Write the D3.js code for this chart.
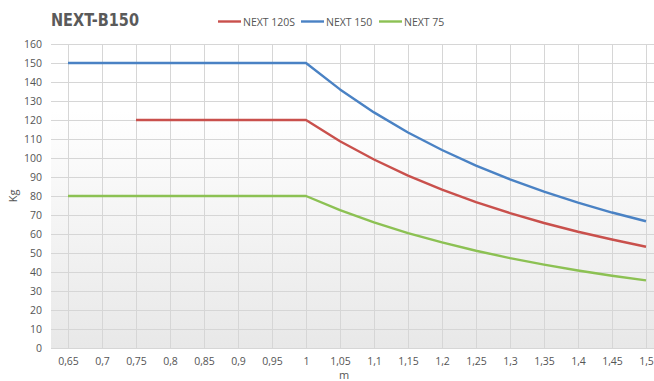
<!DOCTYPE html>
<html><head><meta charset="utf-8">
<script src="https://cdn.jsdelivr.net/npm/d3@7"></script>
<style>body{margin:0;background:#fff;}svg{display:block;font-family:"Open Sans","Noto Sans",sans-serif;}</style>
</head><body>
<svg id="c" width="654" height="381"></svg>
<script>
const categories = ["0,65","0,7","0,75","0,8","0,85","0,9","0,95","1","1,05","1,1","1,15","1,2","1,25","1,3","1,35","1,4","1,45","1,5"];
const next120S = [null,null,120,120,120,120,120,120,108.8,99.2,90.7,83.3,76.8,71.0,65.8,61.2,57.1,53.3];
const next150 = [150,150,150,150,150,150,150,150,136.1,124.0,113.4,104.2,96.0,88.8,82.3,76.5,71.3,66.7];
const next75 = [80,80,80,80,80,80,80,80,72.6,66.1,60.5,55.6,51.2,47.3,43.9,40.8,38.0,35.6];
const yTicks = [0,10,20,30,40,50,60,70,80,90,100,110,120,130,140,150,160];
const seriesNames = ["NEXT 120S","NEXT 150","NEXT 75"];
const seriesColors = ["#c9504c","#4a82c4","#8cc153"];

(function(){
const svg = d3.select("#c");
const pL = 51, pR = 663, pT = 44, pB = 348;
const x = d3.scalePoint().domain(categories).range([pL, pR]).padding(0.5);
const y = d3.scaleLinear().domain([0,160]).range([pB, pT]);

const defs = svg.append("defs");
const g = defs.append("linearGradient").attr("id","bg").attr("x1",0).attr("y1",0).attr("x2",0).attr("y2",1);
g.append("stop").attr("offset","0%").attr("stop-color","#ffffff");
g.append("stop").attr("offset","22%").attr("stop-color","#ffffff");
g.append("stop").attr("offset","100%").attr("stop-color","#e8e8e8");
svg.append("rect").attr("x",pL).attr("y",pT).attr("width",654-pL).attr("height",pB-pT).attr("fill","url(#bg)");

svg.append("g").selectAll("line").data(yTicks).join("line")
  .attr("x1",pL).attr("x2",654).attr("y1",d=>Math.round(y(d))+0.5).attr("y2",d=>Math.round(y(d))+0.5)
  .attr("stroke","#d6d6d6").attr("stroke-width",1);
svg.append("g").selectAll("line").data(categories).join("line")
  .attr("x1",d=>Math.round(x(d))+0.5).attr("x2",d=>Math.round(x(d))+0.5).attr("y1",pT).attr("y2",pB)
  .attr("stroke","#d6d6d6").attr("stroke-width",1);

const ya = svg.append("g").attr("transform",`translate(${pL},0)`)
  .call(d3.axisLeft(y).tickValues(yTicks).tickSize(0).tickPadding(9));
ya.select(".domain").remove();
ya.selectAll("text").attr("font-size",10.5).attr("fill","#555").attr("font-family","'Open Sans',sans-serif");

const xa = svg.append("g").attr("transform",`translate(0,${pB})`)
  .call(d3.axisBottom(x).tickSize(0).tickPadding(10));
xa.select(".domain").remove();
xa.selectAll("text").attr("font-size",10.5).attr("fill","#555").attr("font-family","'Open Sans',sans-serif");

svg.append("text").attr("transform","translate(17,196) rotate(-90)").attr("text-anchor","middle")
  .attr("font-size",11).attr("fill","#555").text("Kg");
svg.append("text").attr("x",344).attr("y",379).attr("text-anchor","middle")
  .attr("font-size",11).attr("fill","#555").text("m");

const data = [next120S, next150, next75];
const line = d3.line().defined(d=>d.v!=null).x(d=>x(d.c)).y(d=>y(d.v));
data.forEach((arr,i)=>{
  svg.append("path").datum(arr.map((v,j)=>({c:categories[j],v})))
    .attr("d",line).attr("fill","none").attr("stroke",seriesColors[i]).attr("stroke-width",2.4)
    .attr("stroke-linejoin","round");
});

svg.append("text").attr("x",51).attr("y",26).attr("font-size",18.5).attr("font-weight","bold")
  .attr("textLength",88).attr("lengthAdjust","spacingAndGlyphs")
  .attr("fill","#5a5a5a").attr("font-family","'DejaVu Sans Condensed','Roboto',sans-serif").text("NEXT-B150");

const legX = [218,301,379];
seriesNames.forEach((n,i)=>{
  svg.append("line").attr("x1",legX[i]).attr("x2",legX[i]+23).attr("y1",21.5).attr("y2",21.5)
    .attr("stroke",seriesColors[i]).attr("stroke-width",2.4);
  svg.append("text").attr("x",legX[i]+25).attr("y",25.5).attr("font-size",10.5).attr("fill","#555").text(n);
});
})();
</script>
</body></html>
